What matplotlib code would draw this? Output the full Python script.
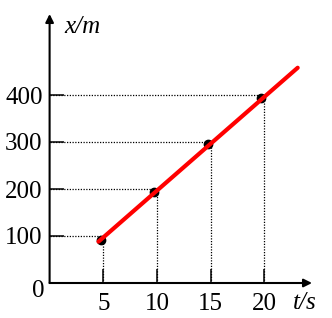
import matplotlib
matplotlib.use("Agg")
import matplotlib.pyplot as plt

# data
t_ticks = [5, 10, 15, 20]
x_ticks = [100, 200, 300, 400]
t_points = [4.75, 9.75, 14.75, 19.7]
x_points = [92, 194, 295, 394]
t_line = [4.55, 23.1]
x_line = [88, 458]

W, H = 332, 318
fig = plt.figure(figsize=(W / 100, H / 100), dpi=100)
x0px, y0px = 49.6, 283.0
pxu_t, pxu_x = 10.74, 0.47
right_px, top_px = 318.0, 8.0
ax = fig.add_axes([x0px / W, (H - y0px) / H, (right_px - x0px) / W, (y0px - top_px) / H])
ax.set_xlim(0, (right_px - x0px) / pxu_t)
ax.set_ylim(0, (y0px - top_px) / pxu_x)
for s in ax.spines.values():
    s.set_visible(False)
ax.patch.set_alpha(0)

serif = "Liberation Serif"
ax.set_xticks(t_ticks)
ax.set_xticklabels([str(v) for v in t_ticks], fontfamily=serif, fontsize=18)
ax.set_yticks(x_ticks)
ax.set_yticklabels([str(v) for v in x_ticks], fontfamily=serif, fontsize=18)
ax.tick_params(axis="both", direction="in", length=10, width=1.1, color="black")
ax.tick_params(axis="x", pad=7)
ax.tick_params(axis="y", pad=5)

# dotted guides
for tv, xv in zip(t_ticks, x_ticks):
    ax.plot([0, tv], [xv, xv], color="black", lw=0.9, ls=(0, (1, 1.2)), zorder=2)
    ax.plot([tv, tv], [0, xv], color="black", lw=0.9, ls=(0, (1, 1.2)), zorder=2)

# axes with arrows
t_arrow = (312 - x0px) / pxu_t
x_arrow = (y0px - 14) / pxu_x
ax.annotate("", xy=(t_arrow, 0), xytext=(0, 0),
            arrowprops=dict(arrowstyle="-|>", color="black", lw=1.5, mutation_scale=12,
                            shrinkA=0, shrinkB=0), annotation_clip=False)
ax.annotate("", xy=(0, x_arrow), xytext=(0, 0),
            arrowprops=dict(arrowstyle="-|>", color="black", lw=1.5, mutation_scale=12,
                            shrinkA=0, shrinkB=0), annotation_clip=False)

# points and line
ax.plot(t_points, x_points, "o", color="black", ms=6, zorder=3)
ax.plot(t_line, x_line, color="red", lw=3, solid_capstyle="round", zorder=4)

# labels
ax.text((38 - x0px) / pxu_t, (y0px - 291) / pxu_x, "0", fontfamily=serif, fontsize=18,
        ha="center", va="center", clip_on=False)
ax.text((64 - x0px) / pxu_t, (y0px - 27) / pxu_x, "x/m", fontfamily=serif, fontsize=18,
        style="italic", ha="left", va="center", clip_on=False)
ax.text((293 - x0px) / pxu_t, (y0px - 303) / pxu_x, "t/s", fontfamily=serif, fontsize=18,
        style="italic", ha="left", va="center", clip_on=False)

fig.savefig("out.png", dpi=100)
